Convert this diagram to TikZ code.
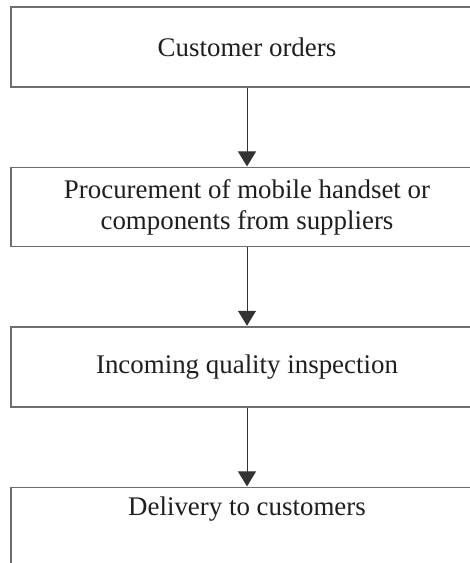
\documentclass[tikz,border=0pt]{standalone}
\usepackage{fontspec}
\setmainfont{Liberation Serif}
\usetikzlibrary{arrows.meta}
\definecolor{boxline}{RGB}{110,110,110}
\definecolor{txt}{RGB}{30,30,30}
\tikzset{
  stepbox/.style={draw=boxline, line width=1.3pt, rectangle, inner sep=0pt,
    minimum width=472pt, minimum height=80pt, align=center, text=txt,
    font=\fontsize{26.9pt}{30.5pt}\selectfont},
  flow/.style={draw=black!80, line width=0.9pt,
    -{Triangle[width=18pt,length=15pt]}, shorten >=0.6pt}
}
\begin{document}
\begin{tikzpicture}[x=1pt,y=-1pt]
\useasboundingbox (0,0) rectangle (470,563);
\clip (0,0) rectangle (470,563);
\node[stepbox] (b1) at (247,47) {Customer orders};
\node[stepbox, minimum height=79pt] (b2) at (247,207.2) {Procurement of mobile handset or\\components from suppliers};
\node[stepbox] (b3) at (247,367) {Incoming quality inspection};
\node[stepbox, minimum height=0pt, anchor=north, text height=28pt, text depth=90pt] (b4) at (247,487) {Delivery to customers};
\draw[flow] (b1.south) -- (b2.north);
\draw[flow] (b2.south) -- (b3.north);
\draw[flow] (b3.south) -- (b4.north);
\end{tikzpicture}
\end{document}
